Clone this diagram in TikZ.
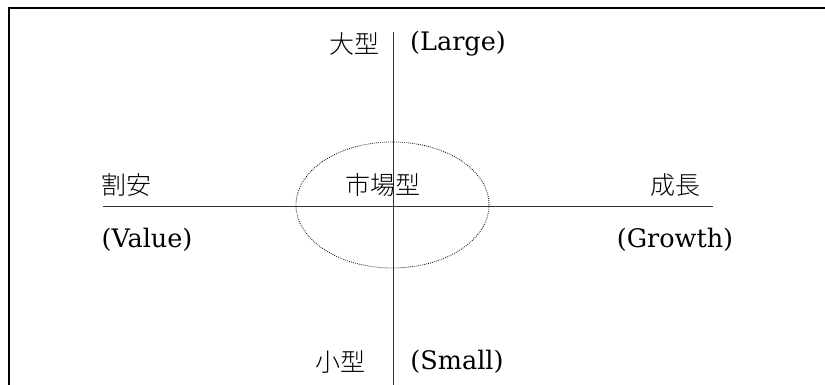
\documentclass[tikz,border=0pt]{standalone}
\usepackage{fontspec}
\usetikzlibrary{shapes.geometric}
\newfontfamily\jp{Noto Sans CJK JP Light}
\newfontfamily\lat{DejaVu Serif}
\begin{document}
\begin{tikzpicture}[x=1pt,y=-1pt,
  jtext/.style={font=\jp\fontsize{25}{27}\selectfont, inner sep=0pt},
  etext/.style={font=\lat\fontsize{25.5}{28}\selectfont, inner sep=0pt},
  axis/.style={line width=1pt, black!80},
  frame/.style={line width=2.2pt},
  market/.style={draw, dash pattern=on 0.8pt off 1.2pt, line width=0.8pt, ellipse, minimum width=193pt, minimum height=126pt, inner sep=0pt}]
\useasboundingbox (0,0) rectangle (825,385);
\clip (0,0) rectangle (825,385);
\draw[frame] (9,400) -- (9,8) -- (840,8);
\coordinate (L) at (103,206);
\coordinate (R) at (713,206);
\coordinate (T) at (393,32);
\coordinate (B) at (393,385);
\draw[axis] (L) -- (R);
\draw[axis] (T) -- (B);
\node[market] (mk) at (392.5,205) {};
\node[jtext] (big) at (354,44) {大型};
\node[etext] (bigE) at (458,44) {(Large)};
\node[jtext] (small) at (340,362) {小型};
\node[etext] (smallE) at (457,362) {(Small)};
\node[jtext] (val) at (126,185) {割安};
\node[etext] (valE) at (147,240) {(Value)};
\node[jtext] (gro) at (675,185) {成長};
\node[etext] (groE) at (675,240) {(Growth)};
\node[jtext] (mkt) at (383,185) {市場型};
\end{tikzpicture}
\end{document}
